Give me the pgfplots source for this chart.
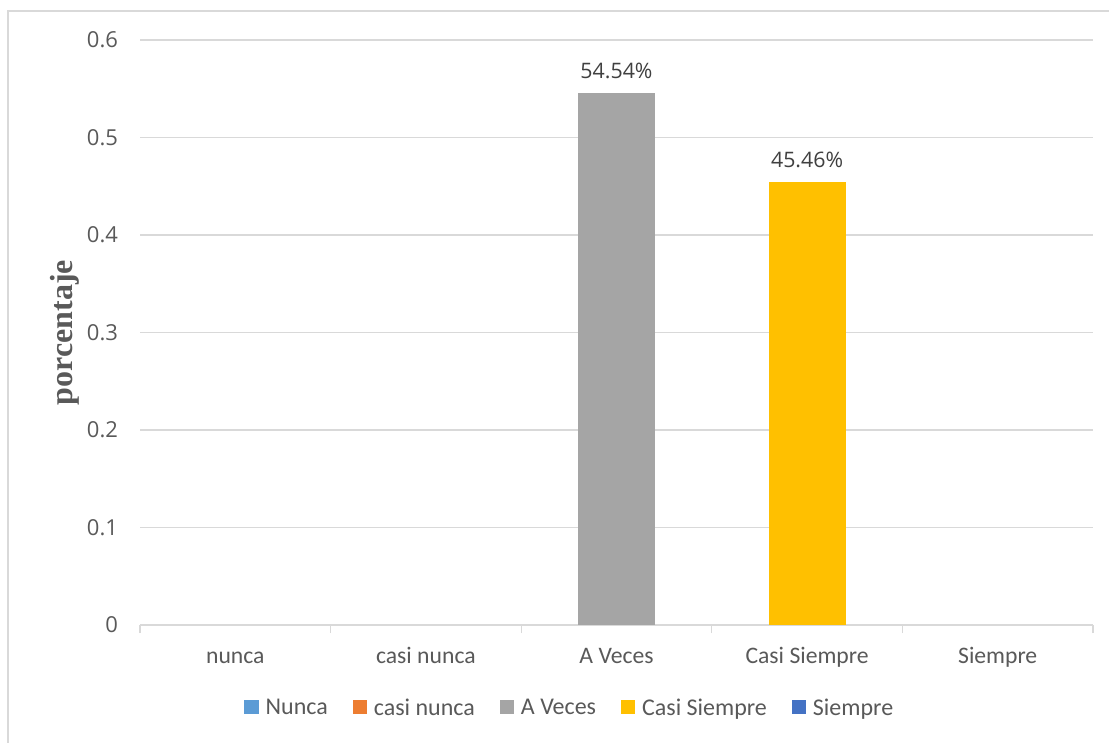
\documentclass[border=0pt]{standalone}
\usepackage{pgfplots}
\pgfplotsset{compat=1.18}
\usepackage{fontspec}
\setmainfont{Carlito}
\newfontfamily\osfont{Open Sans}
\newfontfamily\serifbold{Liberation Serif}[BoldFont={Liberation Serif Bold}]
\definecolor{cNunca}{HTML}{5B9BD5}
\definecolor{cCasiNunca}{HTML}{ED7D31}
\definecolor{cAVeces}{HTML}{A5A5A5}
\definecolor{cCasiSiempre}{HTML}{FFC000}
\definecolor{cSiempre}{HTML}{4472C4}
\definecolor{txt}{HTML}{595959}
\definecolor{lbl}{HTML}{404040}
\definecolor{gridc}{HTML}{D9D9D9}
\pgfplotsset{sq/.style={legend image code/.code={\fill[##1] (0pt,-4.5pt) rectangle (11pt,6pt);}}}
\begin{document}
\begin{tikzpicture}
\useasboundingbox (0,0) rectangle (831.75pt,556.5pt);
\draw[gridc, line width=0.9pt] (6pt,-20pt) -- (6pt,548.25pt) -- (860pt,548.25pt);
\begin{axis}[
  at={(105pt,87.75pt)}, anchor=south west,
  scale only axis, width=714.75pt, height=438.75pt,
  xmin=-0.5, xmax=4.5, ymin=0, ymax=0.6,
  axis line style={draw=none},
  ytick={0,0.1,0.2,0.3,0.4,0.5,0.6},
  ymajorgrids, grid style={gridc, line width=0.9pt},
  ytick style={draw=none},
  xtick={0,1,2,3,4},
  xticklabels={nunca, casi nunca, A Veces, Casi Siempre, Siempre},
  minor xtick={-0.5,0.5,1.5,2.5,3.5,4.5},
  xtick pos=bottom, tick align=outside,
  major tick length=0pt, minor tick length=6pt,
  minor tick style={gridc, line width=0.9pt},
  xminorgrids=false,
  /pgf/number format/assume math mode=true,
  yticklabel style={font=\osfont\fontsize{16.5}{19}\selectfont, color=txt, anchor=east, xshift=-13pt},
  xticklabel style={font=\fontsize{17.75}{20}\selectfont, color=txt, anchor=base, yshift=-28.5pt},
  ylabel={porcentaje},
  ylabel style={font=\serifbold\bfseries\fontsize{24}{27}\selectfont, color=txt, at={(axis description cs:-0.0787,0.50)}, anchor=center},
  legend columns=5,
  legend style={at={(axis description cs:0.451,-0.142)}, anchor=center, draw=none, fill=none,
    font=\fontsize{18}{20}\selectfont, text=txt,
    /tikz/every odd column/.append style={column sep=3.5pt},
    /tikz/every even column/.append style={column sep=17pt},
    nodes={inner sep=1.5pt}},
  nodes near coords style={font=\osfont\fontsize{16}{19}\selectfont, color=lbl, anchor=base, inner sep=0pt, yshift=11pt},
]
\addplot[ybar, bar width=0.404, bar shift=0pt, fill=none, draw=none, forget plot] coordinates {(0,0)};
\addlegendimage{sq, fill=cNunca, draw=none}
\addlegendentry{Nunca}
\addplot[ybar, bar width=0.404, bar shift=0pt, fill=none, draw=none, forget plot] coordinates {(1,0)};
\addlegendimage{sq, fill=cCasiNunca, draw=none}
\addlegendentry{casi nunca}
\addplot[ybar, bar width=0.404, bar shift=0pt, fill=cAVeces, draw=none,
  point meta=explicit symbolic, nodes near coords, sq] coordinates {(2,0.5454) [54.54\%]};
\addlegendentry{A Veces}
\addplot[ybar, bar width=0.404, bar shift=0pt, fill=cCasiSiempre, draw=none,
  point meta=explicit symbolic, nodes near coords, sq] coordinates {(3,0.4546) [45.46\%]};
\addlegendentry{Casi Siempre}
\addplot[ybar, bar width=0.404, bar shift=0pt, fill=none, draw=none, forget plot] coordinates {(4,0)};
\addlegendimage{sq, fill=cSiempre, draw=none}
\addlegendentry{Siempre}
\end{axis}
\end{tikzpicture}
\end{document}
